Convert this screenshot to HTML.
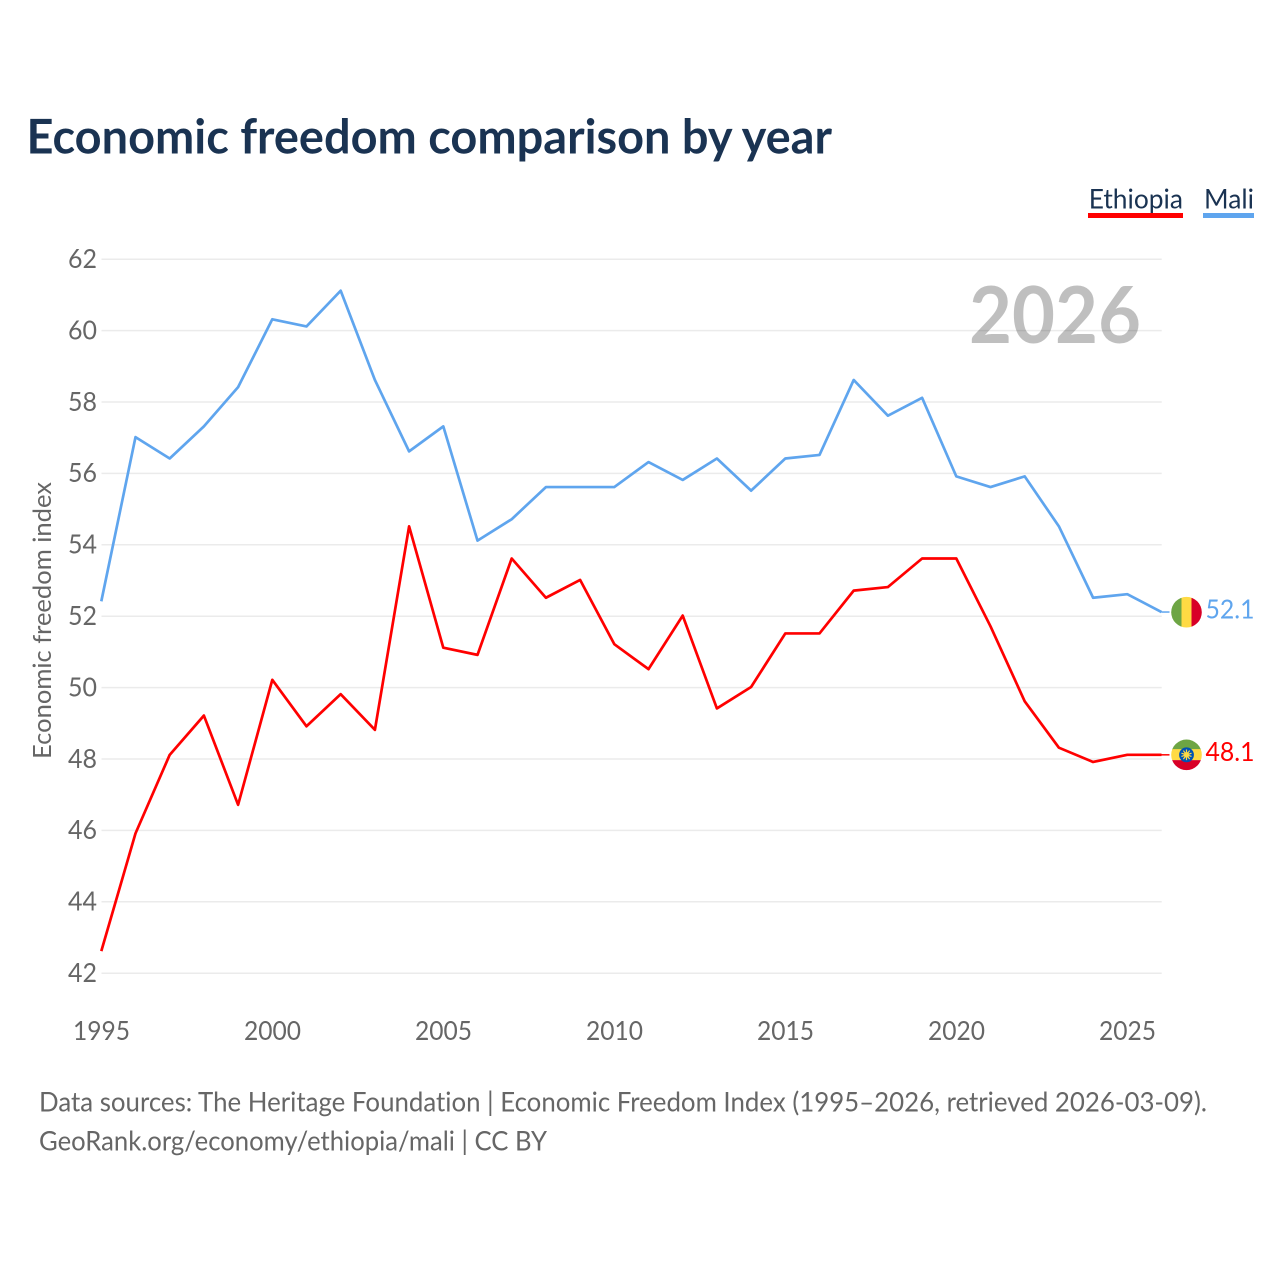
<!DOCTYPE html>
<html lang="en">
<head>
<meta charset="utf-8">
<title>Economic freedom comparison by year</title>
<style>
html,body{margin:0;padding:0;background:#fff;width:1280px;height:1280px;overflow:hidden}
svg{display:block;font-family:"Lato","Carlito","Liberation Sans",sans-serif;font-variant-ligatures:none}
</style>
</head>
<body>
<svg id="chart" xmlns="http://www.w3.org/2000/svg" width="1280" height="1280" viewBox="0 0 1280 1280">
<rect x="0" y="0" width="1280" height="1280" fill="#ffffff"/>
<text x="26.5" y="153.5" font-size="47.5" font-weight="700" fill="#1a3352" textLength="805.5" lengthAdjust="spacingAndGlyphs">Economic freedom comparison by year</text>
<g id="grid"></g>
<g id="yticks"></g>
<g id="xticks"></g>
<text transform="translate(51,620.5) rotate(-90)" text-anchor="middle" font-size="25.5" fill="#666666" textLength="277" lengthAdjust="spacingAndGlyphs">Economic freedom index</text>
<text x="969" y="343" font-size="79" font-weight="700" fill="#000000" fill-opacity="0.25" textLength="172" lengthAdjust="spacingAndGlyphs">2026</text>
<g id="series"></g>
<g>
<text x="1088.7" y="208.3" font-size="27" fill="#1a3352" textLength="94.3" lengthAdjust="spacingAndGlyphs">Ethiopia</text>
<rect x="1088" y="213" width="95" height="5" fill="#ff0000"/>
</g>
<g>
<text x="1204" y="208.3" font-size="27" fill="#1a3352" textLength="50" lengthAdjust="spacingAndGlyphs">Mali</text>
<rect x="1203" y="213" width="51" height="5" fill="#5fa5ee"/>
</g>
<g id="flags"></g>
<text x="39" y="1111.5" font-size="27" fill="#666666" textLength="1168" lengthAdjust="spacingAndGlyphs">Data sources: The Heritage Foundation | Economic Freedom Index (1995–2026, retrieved 2026-03-09).</text>
<text x="39" y="1150.5" font-size="27" fill="#666666" textLength="508" lengthAdjust="spacingAndGlyphs">GeoRank.org/economy/ethiopia/mali | CC BY</text>
</svg>
<script>
const years = [1995,1996,1997,1998,1999,2000,2001,2002,2003,2004,2005,2006,2007,2008,2009,2010,2011,2012,2013,2014,2015,2016,2017,2018,2019,2020,2021,2022,2023,2024,2025,2026];
const maliValues = [52.4,57.0,56.4,57.3,58.4,60.3,60.1,61.1,58.6,56.6,57.3,54.1,54.7,55.6,55.6,55.6,56.3,55.8,56.4,55.5,56.4,56.5,58.6,57.6,58.1,55.9,55.6,55.9,54.5,52.5,52.6,52.1];
const ethiopiaValues = [42.6,45.9,48.1,49.2,46.7,50.2,48.9,49.8,48.8,54.5,51.1,50.9,53.6,52.5,53.0,51.2,50.5,52.0,49.4,50.0,51.5,51.5,52.7,52.8,53.6,53.6,51.7,49.6,48.3,47.9,48.1,48.1];
const yTickValues = [42,44,46,48,50,52,54,56,58,60,62];
const xTickValues = [1995,2000,2005,2010,2015,2020,2025];
const NS = 'http://www.w3.org/2000/svg';
const xAt = function (year) { return 101.3 + (year - 1995) * 34.2; };
const yAt = function (value) { return 973.2 - (value - 42) * 35.7; };
const lineY = function (value) { return yAt(value) - 0.6; };
const gridG = document.getElementById('grid');
const yG = document.getElementById('yticks');
const xG = document.getElementById('xticks');
const seriesG = document.getElementById('series');
const flagsG = document.getElementById('flags');
function make(tag, attrs, parent) {
  const el = document.createElementNS(NS, tag);
  Object.keys(attrs).forEach(function (k) { el.setAttribute(k, attrs[k]); });
  parent.appendChild(el);
  return el;
}
yTickValues.forEach(function (v) {
  const line = make('line', {x1: 101.5, x2: 1161.7, y1: yAt(v), y2: yAt(v), stroke: '#ebebeb', 'stroke-width': 1.5}, gridG);
  
  
  const label = make('text', {x: 97, y: yAt(v) + 8.8, 'text-anchor': 'end', 'font-size': 26, fill: '#666666', textLength: 29, lengthAdjust: 'spacingAndGlyphs'}, yG);
  
  
  label.textContent = v;
});
xTickValues.forEach(function (y) {
  const label = make('text', {x: xAt(y) + 0.2, y: 1040, 'text-anchor': 'middle', 'font-size': 26, fill: '#666666', textLength: 57, lengthAdjust: 'spacingAndGlyphs'}, xG);
  
  
  label.textContent = y;
});
function pathFor(values) {
  return values.map(function (v, i) { return (i ? 'L' : 'M') + xAt(years[i]).toFixed(2) + ' ' + lineY(v).toFixed(2); }).join(' ');
}
function lastY(values) { return lineY(values[values.length - 1]); }

const maliLine = make('path', {d: pathFor(maliValues), fill: 'none', stroke: '#5fa5ee', 'stroke-width': 2.7, 'stroke-linejoin': 'round'}, seriesG);


const ethLine = make('path', {d: pathFor(ethiopiaValues), fill: 'none', stroke: '#ff0000', 'stroke-width': 2.7, 'stroke-linejoin': 'round'}, seriesG);



const lastX = xAt(years[years.length - 1]);
const mY = lastY(maliValues);
const eY = lastY(ethiopiaValues);
const maliTail = make('line', {x1: lastX, x2: lastX + 8, y1: mY, y2: mY, stroke: '#5fa5ee', 'stroke-width': 1.5}, seriesG);


const ethTail = make('line', {x1: lastX, x2: lastX + 8, y1: eY, y2: eY, stroke: '#ff0000', 'stroke-width': 1.5}, seriesG);



const flagCx = 1186.5;
const defs = make('defs', {}, flagsG);
const clipM = make('clipPath', {id: 'clip-mali'}, defs);
make('circle', {cx: flagCx, cy: mY + 0.2, r: 15.3}, clipM);
const clipE = make('clipPath', {id: 'clip-eth'}, defs);
make('circle', {cx: flagCx, cy: eY, r: 15.3}, clipE);

const maliFlag = make('g', {'clip-path': 'url(#clip-mali)'}, flagsG);


make('rect', {x: flagCx - 16, y: mY - 16, width: 11, height: 32, fill: '#6da544'}, maliFlag);
make('rect', {x: flagCx - 5, y: mY - 16, width: 10, height: 32, fill: '#ffda44'}, maliFlag);
make('rect', {x: flagCx + 5, y: mY - 16, width: 11, height: 32, fill: '#d80027'}, maliFlag);

const ethFlag = make('g', {'clip-path': 'url(#clip-eth)'}, flagsG);


make('rect', {x: flagCx - 16, y: eY - 16, width: 32, height: 11, fill: '#6da544'}, ethFlag);
make('rect', {x: flagCx - 16, y: eY - 5.7, width: 32, height: 11, fill: '#ffda44'}, ethFlag);
make('rect', {x: flagCx - 16, y: eY + 5.3, width: 32, height: 11, fill: '#d80027'}, ethFlag);
make('circle', {cx: flagCx, cy: eY, r: 7.4, fill: '#0052b4'}, ethFlag);
make('circle', {cx: flagCx, cy: eY, r: 2.8, fill: '#ffda44'}, ethFlag);
for (let a = 0; a < 10; a++) {
  const t = a * Math.PI / 5 - Math.PI / 2;
  make('line', {x1: flagCx, y1: eY, x2: flagCx + 5.3 * Math.cos(t), y2: eY + 5.3 * Math.sin(t), stroke: '#ffda44', 'stroke-width': 1.2}, ethFlag);
}

const maliValueLabel = make('text', {x: 1205.5, y: mY + 6.7, 'font-size': 26.5, fill: '#5fa5ee', textLength: 49, lengthAdjust: 'spacingAndGlyphs'}, flagsG);


maliValueLabel.textContent = maliValues[maliValues.length - 1].toFixed(1);
const ethValueLabel = make('text', {x: 1205.5, y: eY + 6, 'font-size': 26.5, fill: '#ff0000', textLength: 49, lengthAdjust: 'spacingAndGlyphs'}, flagsG);


ethValueLabel.textContent = ethiopiaValues[ethiopiaValues.length - 1].toFixed(1);
</script>
</body>
</html>
